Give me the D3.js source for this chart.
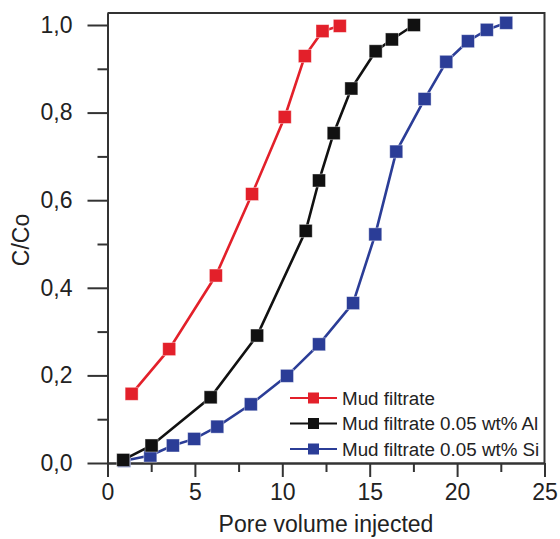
<!DOCTYPE html>
<html>
<head>
<meta charset="UTF-8">
<script src="https://d3js.org/d3.v7.min.js"></script>
<style>
  body { margin: 0; background: #fff; }
  svg text { font-family: "Liberation Sans", Arial, sans-serif; fill: #222; }
  .axis path, .axis line { stroke: #333; stroke-width: 2px; }
  .axis text { font-size: 23px; }
</style>
</head>
<body>
<script>
// data (pore volume, C/Co)
var redX   = [1.38, 3.53, 6.2, 8.27, 10.14, 11.29, 12.3, 13.29];
var redY   = [0.158, 0.26, 0.428, 0.614, 0.79, 0.929, 0.986, 0.998];
var blackX = [0.9, 2.52, 5.9, 8.56, 11.34, 12.1, 12.94, 13.95, 15.34, 16.27, 17.53];
var blackY = [0.007, 0.04, 0.15, 0.291, 0.53, 0.645, 0.753, 0.855, 0.94, 0.967, 1.0];
var blueX  = [0.95, 2.45, 3.74, 4.96, 6.28, 8.2, 10.27, 12.1, 14.05, 15.32, 16.52, 18.14, 19.38, 20.62, 21.7, 22.81];
var blueY  = [0.005, 0.017, 0.04, 0.055, 0.083, 0.134, 0.199, 0.271, 0.365, 0.522, 0.711, 0.831, 0.916, 0.963, 0.989, 1.005];
var seriesNames = ["Mud filtrate", "Mud filtrate 0.05 wt% Al", "Mud filtrate 0.05 wt% Si"];
var seriesColors = ["#e3202a", "#111111", "#2b3d97"];
var xTicks = [0, 5, 10, 15, 20, 25];
var yTicks = [0, 0.2, 0.4, 0.6, 0.8, 1.0];

var W = 560, H = 539;
var plotL = 107.5, plotR = 544.5, plotT = 13, plotB = 463;

var x = d3.scaleLinear().domain([0, 25]).range([plotL, plotR]);
var y = d3.scaleLinear().domain([0, 1.0274]).range([plotB, plotT]);

var svg = d3.select("body").append("svg").attr("width", W).attr("height", H);

var fmt = function(d) { return d3.format(".1f")(d).replace(".", ","); };

// minor ticks
svg.append("g").attr("class", "axis")
   .attr("transform", "translate(0," + plotB + ")")
   .call(d3.axisBottom(x).tickValues([2.5, 7.5, 12.5, 17.5, 22.5]).tickSize(9).tickSizeOuter(0).tickFormat(""));
svg.append("g").attr("class", "axis")
   .attr("transform", "translate(" + plotL + ",0)")
   .call(d3.axisLeft(y).tickValues([0.1, 0.3, 0.5, 0.7, 0.9]).tickSize(10).tickSizeOuter(0).tickFormat(""));

// major ticks
svg.append("g").attr("class", "axis")
   .attr("transform", "translate(0," + plotB + ")")
   .call(d3.axisBottom(x).tickValues(xTicks).tickSize(14).tickSizeOuter(0).tickPadding(7));
svg.append("g").attr("class", "axis")
   .attr("transform", "translate(" + plotL + ",0)")
   .call(d3.axisLeft(y).tickValues(yTicks).tickSize(20).tickSizeOuter(0).tickPadding(15).tickFormat(fmt));

// frame
svg.append("path")
   .attr("d", "M" + plotL + "," + plotT + "H" + plotR + "V" + plotB)
   .attr("fill", "none").attr("stroke", "#333").attr("stroke-width", 2);

// axis titles
svg.append("text").attr("x", (plotL + plotR) / 2).attr("y", 532)
   .attr("text-anchor", "middle").style("font-size", "23px").text("Pore volume injected");
svg.append("text").attr("transform", "translate(29,240) rotate(-90)")
   .attr("text-anchor", "middle").style("font-size", "23px").text("C/Co");

var line = d3.line().x(function(d) { return x(d[0]); }).y(function(d) { return y(d[1]); });

function drawSeries(xs, ys, color) {
  var pts = xs.map(function(v, i) { return [v, ys[i]]; });
  var g = svg.append("g");
  g.append("path").attr("d", line(pts)).attr("fill", "none")
   .attr("stroke", color).attr("stroke-width", 2.6);
  g.selectAll("rect").data(pts).enter().append("rect")
   .attr("x", function(d) { return x(d[0]) - 6.5; })
   .attr("y", function(d) { return y(d[1]) - 6.5; })
   .attr("width", 13).attr("height", 13)
   .attr("fill", color).attr("stroke", "#fff").attr("stroke-opacity", 0.5).attr("stroke-width", 0.8);
}

drawSeries(blueX, blueY, seriesColors[2]);
drawSeries(blackX, blackY, seriesColors[1]);
drawSeries(redX, redY, seriesColors[0]);

// legend
var legend = svg.append("g").selectAll("g").data(seriesNames).enter().append("g")
   .attr("transform", function(d, i) { return "translate(0," + (398 + i * 25.5) + ")"; });
legend.append("line").attr("x1", 290).attr("x2", 337).attr("y1", 0).attr("y2", 0)
   .attr("stroke", function(d, i) { return seriesColors[i]; }).attr("stroke-width", 2);
legend.append("rect").attr("x", 308).attr("y", -5.5).attr("width", 11).attr("height", 11)
   .attr("fill", function(d, i) { return seriesColors[i]; });
legend.append("text").attr("x", 342).attr("y", 6.8).style("font-size", "18.8px")
   .text(function(d) { return d; });
</script>
</body>
</html>
